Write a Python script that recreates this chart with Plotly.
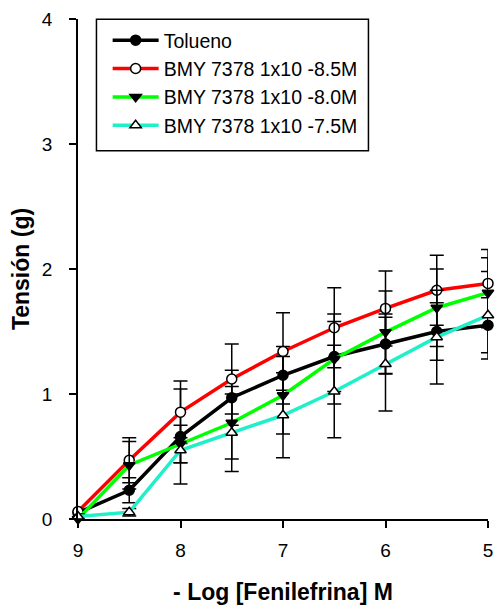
import plotly.graph_objects as go

# -log of phenylephrine concentration (M)
log_conc = [9, 8.5, 8, 7.5, 7, 6.5, 6, 5.5, 5]

# Mean tension (g) and SEM for each group
tolueno = [0.05, 0.23, 0.66, 0.97, 1.15, 1.30, 1.40, 1.50, 1.55]
tolueno_err = [0.02, 0.10, 0.38, 0.22, 0.23, 0.28, 0.24, 0.23, 0.22]

bmy_85 = [0.06, 0.47, 0.855, 1.12, 1.34, 1.53, 1.685, 1.83, 1.885]
bmy_85_err = [0.02, 0.18, 0.25, 0.28, 0.31, 0.32, 0.30, 0.28, 0.27]

bmy_80 = [0.0, 0.43, 0.60, 0.77, 0.99, 1.28, 1.495, 1.69, 1.81]
bmy_80_err = [0.02, 0.19, 0.15, 0.29, 0.31, 0.36, 0.33, 0.31, 0.28]

bmy_75 = [0.02, 0.055, 0.55, 0.69, 0.83, 1.02, 1.24, 1.455, 1.63]
bmy_75_err = [0.02, 0.03, 0.10, 0.31, 0.34, 0.37, 0.375, 0.375, 0.35]

x_ticks = [9, 8, 7, 6, 5]
y_ticks = [0, 1, 2, 3, 4]

series = [
    ("Tolueno", tolueno, tolueno_err, "#000000", "circle", "#000000"),
    ("BMY 7378 1x10 -8.5M", bmy_85, bmy_85_err, "#ff0000", "circle", "#ffffff"),
    ("BMY 7378 1x10 -8.0M", bmy_80, bmy_80_err, "#00ff00", "triangle-down", "#000000"),
    ("BMY 7378 1x10 -7.5M", bmy_75, bmy_75_err, "#1ff0c8", "triangle-up", "#ffffff"),
]

FONT = "Arial, 'Liberation Sans', sans-serif"

fig = go.Figure()
for name, y, err, color, symbol, fill in series:
    fig.add_trace(go.Scatter(
        x=log_conc, y=y, name=name, mode="lines+markers",
        line=dict(color=color, width=3.5),
        marker=dict(symbol=symbol, size=10, color=fill,
                    line=dict(color="#000000", width=1.5)),
        error_y=dict(type="data", array=err, visible=True,
                     color="#000000", thickness=1.5, width=7),
        cliponaxis=False,
    ))

# Legend frame
fig.add_shape(type="rect", xref="paper", yref="paper",
              x0=0.045, x1=0.7084, y0=0.7364, y1=0.9994,
              line=dict(color="#000000", width=1.5), fillcolor="white",
              layer="below")

fig.update_layout(
    width=502, height=612,
    margin=dict(l=78, r=9, t=15, b=93),
    paper_bgcolor="white", plot_bgcolor="white",
    font=dict(family=FONT, size=19, color="#000000"),
    showlegend=True,
    legend=dict(
        x=0.0723, y=0.996, xanchor="left", yanchor="top",
        borderwidth=0, bgcolor="rgba(0,0,0,0)",
        font=dict(family=FONT, size=19.5, color="#000000"),
        itemwidth=46, tracegroupgap=0,
    ),
    xaxis=dict(
        range=[9, 5], tickvals=x_ticks, ticktext=[str(v) for v in x_ticks],
        ticks="outside", ticklen=7, tickwidth=1.5, tickcolor="#000000",
        ticklabelstandoff=6,
        showline=True, linecolor="#000000", linewidth=1.5,
        showgrid=False, zeroline=False,
        title=dict(text="<b>- Log [Fenilefrina] M</b>",
                   font=dict(family=FONT, size=23), standoff=24),
    ),
    yaxis=dict(
        range=[0, 4], tickvals=y_ticks, ticktext=[str(v) for v in y_ticks],
        ticks="outside", ticklen=7, tickwidth=1.5, tickcolor="#000000",
        ticklabelstandoff=13,
        showline=True, linecolor="#000000", linewidth=1.5,
        showgrid=False, zeroline=False,
        title=dict(text="<b>Tensión (g)</b>",
                   font=dict(family=FONT, size=23), standoff=6),
    ),
)

fig.write_html("out.html")
